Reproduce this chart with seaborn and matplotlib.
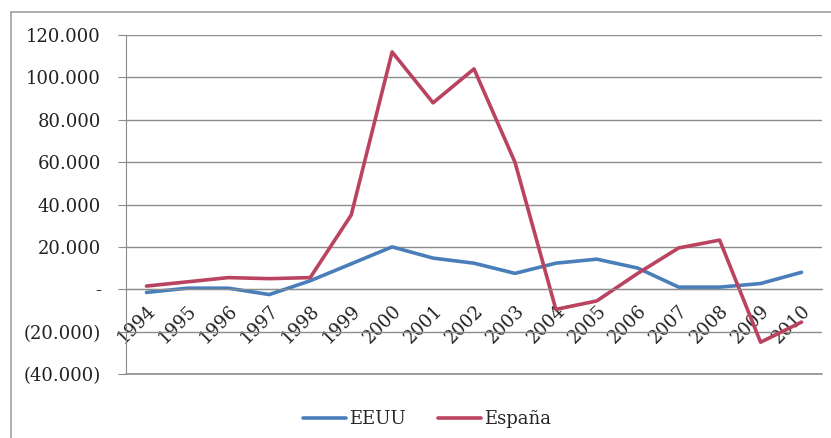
import numpy as np
import pandas as pd
import seaborn as sns
import matplotlib.pyplot as plt
from matplotlib.patches import Rectangle
from matplotlib.ticker import FuncFormatter, FixedLocator

years = [str(y) for y in range(1994, 2011)]
eeuu = [-1500, 500, 500, -2500, 4000, 12000, 20000, 14700, 12300, 7500,
        12300, 14200, 10000, 1000, 1000, 2700, 8000]
espana = [1500, 3500, 5500, 5000, 5500, 35000, 112000, 88000, 104000, 60000,
          -9500, -5500, 7500, 19500, 23200, -25000, -15500]

df = pd.DataFrame({"year": years * 2,
                   "valor": eeuu + espana,
                   "pais": ["EEUU"] * len(years) + ["España"] * len(years)})

sns.set_style("white")
plt.rcParams["font.family"] = ["DejaVu Serif"]

fig = plt.figure(figsize=(8.31, 4.38), dpi=100)
fig.patches.append(Rectangle((11 / 831, -0.1), 1.0, 1 - 12 / 438 + 0.1,
                             transform=fig.transFigure, fill=False,
                             edgecolor="#a0a0a0", linewidth=1.2))
ax = fig.add_axes([126 / 831, 1 - 374 / 438, (822 - 126) / 831, (374 - 35) / 438])

sns.lineplot(data=df, x="year", y="valor", hue="pais",
             palette={"EEUU": "#4A7EBB", "España": "#BA4360"},
             linewidth=2.6, ax=ax, sort=False)

ax.set_xlim(-0.5, len(years) - 0.5)
ax.set_ylim(-40000, 120000)
ax.set_yticks(np.arange(-40000, 120001, 20000))


def fmt(v, pos):
    if v == 0:
        return "-"
    s = f"{abs(v):,.0f}".replace(",", ".")
    return f"({s})" if v < 0 else s


ax.yaxis.set_major_formatter(FuncFormatter(fmt))
ax.grid(axis="y", color="#8c8c8c", linewidth=1)
ax.axhline(-40000, color="#8c8c8c", linewidth=1.2, clip_on=False, zorder=0)
ax.set_axisbelow(True)

for s in ["top", "right"]:
    ax.spines[s].set_visible(False)
ax.spines["bottom"].set_position(("data", 0))
ax.spines["bottom"].set_color("#8c8c8c")
ax.spines["left"].set_color("#8c8c8c")

ax.set_xticks(range(len(years)))
ax.set_xticklabels(years, rotation=45, ha="right", va="top",
                   rotation_mode="anchor", fontsize=13, color="#222222")
ax.xaxis.set_minor_locator(FixedLocator(np.arange(-0.5, len(years), 1)))
ax.tick_params(axis="x", which="major", length=0, pad=9)
ax.tick_params(axis="x", which="minor", length=5, color="#8c8c8c", direction="out")
ax.tick_params(axis="y", length=6, color="#8c8c8c", labelsize=13, pad=12,
               labelcolor="#222222", left=True)

ax.set_xlabel("")
ax.set_ylabel("")

ax.legend(title=None, loc="upper center", bbox_to_anchor=(0.432, -0.058),
          ncol=2, frameon=False, fontsize=13, handlelength=2.4,
          handletextpad=0.15, columnspacing=1.8)

fig.savefig("out.png", dpi=100)
